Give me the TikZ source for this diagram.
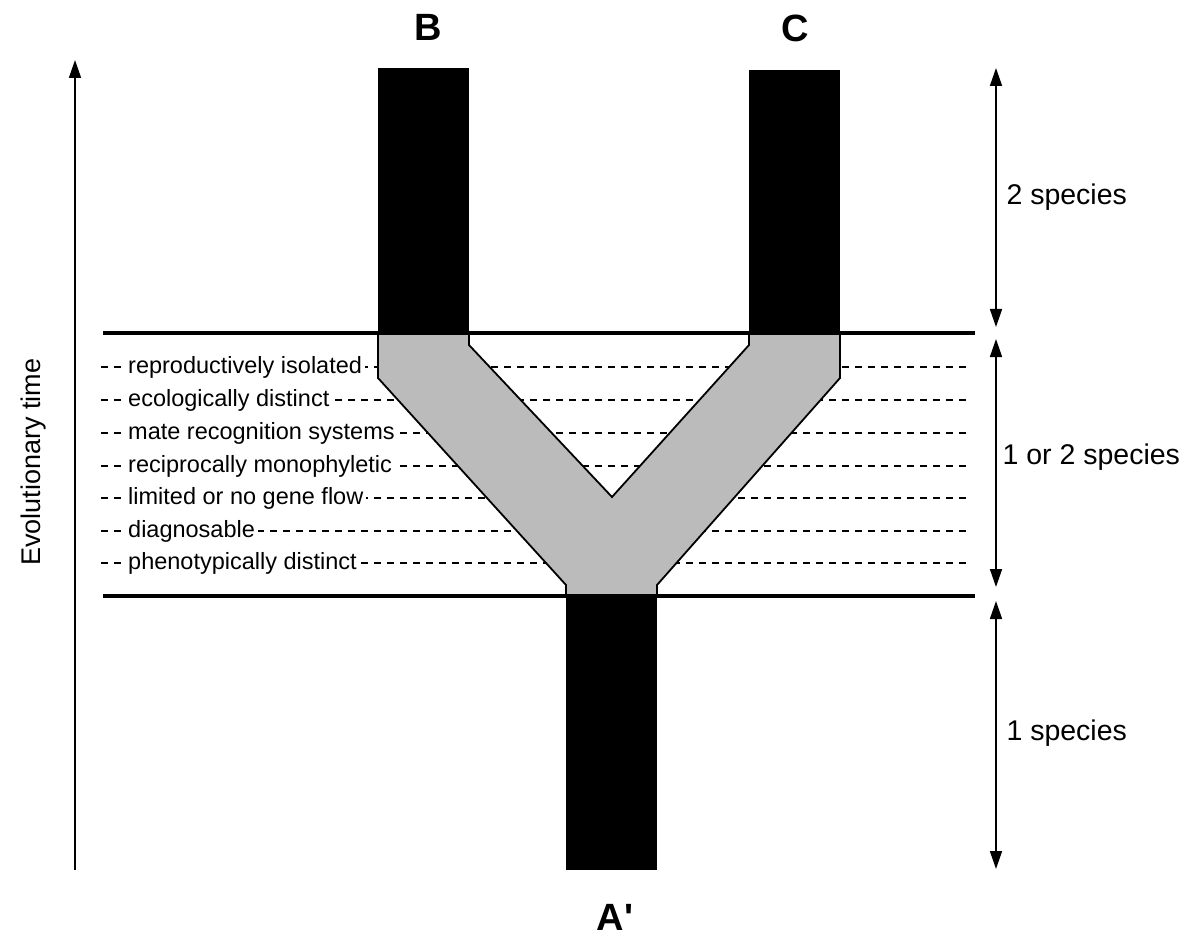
\documentclass[tikz,border=0pt]{standalone}
\usepackage{fontspec}
\setmainfont{Liberation Sans}
\usetikzlibrary{arrows.meta,positioning}
\definecolor{branchgray}{RGB}{187,187,187}

\begin{document}
\begin{tikzpicture}[x=1pt,y=-1pt,
    tip/.style={-{Triangle[length=18pt,width=12pt]}, line width=1.7pt},
    span/.style={{Triangle[length=18pt,width=12pt]}-{Triangle[length=18pt,width=12pt]}, line width=1.7pt},
    crit/.style={font=\fontsize{23.5}{27}\selectfont, anchor=west, fill=white, inner sep=3pt},
    zone/.style={font=\fontsize{28.5}{33}\selectfont, anchor=west},
    tiplabel/.style={font=\fontsize{38}{44}\selectfont\bfseries}]
    \useasboundingbox (0,0) rectangle (1187,936);

    % criteria along the split
    \foreach \y/\txt [count=\i] in {367/reproductively isolated, 400/ecologically distinct,
        433/mate recognition systems, 466/reciprocally monophyletic,
        498/limited or no gene flow, 531/diagnosable, 563/phenotypically distinct} {
        \draw[line width=1.7pt, dash pattern=on 7pt off 6pt] (101,\y) -- (972,\y);
        \node[crit] (crit\i) at (125,\y) {\txt};
    }

    % the lineage splitting
    \draw[fill=branchgray, line width=1.8pt] (378,333) -- (378,378) -- (566,585) -- (566,596)
        -- (657,596) -- (657,585) -- (840,378) -- (840,333) -- (749,333) -- (749,345)
        -- (612,497) -- (469,345) -- (469,333) -- cycle;
    \fill (378,68) rectangle (469,333);
    \fill (749,70) rectangle (840,333);
    \fill (566,596) rectangle (657,870);

    \draw[line width=3.2pt] (103,333) -- (975,333);
    \draw[line width=3.2pt] (103,596) -- (975,596);

    \node[tiplabel] (B) at (428,27) {B};
    \node[tiplabel] (C) at (795,28) {C};
    \node[tiplabel] (A) at (615,917) {A\textquotesingle};

    % time axis
    \coordinate (tbase) at (75,870);
    \coordinate (ttop) at (75,60);
    \draw[tip] (tbase) -- (ttop);
    \node[font=\fontsize{27}{32}\selectfont, rotate=90] (evo) at (34,462) {Evolutionary time};

    % number of species
    \coordinate (two1) at (996,68);
    \coordinate (two2) at (996,327);
    \coordinate (mix1) at (996,339);
    \coordinate (mix2) at (996,587);
    \coordinate (one1) at (996,601);
    \coordinate (one2) at (996,869);
    \draw[span] (two1) -- (two2);
    \draw[span] (mix1) -- (mix2);
    \draw[span] (one1) -- (one2);
    \node[zone] (two) at (1003,197) {2 species};
    \node[zone] (mix) at (999,457) {1 or 2 species};
    \node[zone] (one) at (1003,733) {1 species};
\end{tikzpicture}
\end{document}
